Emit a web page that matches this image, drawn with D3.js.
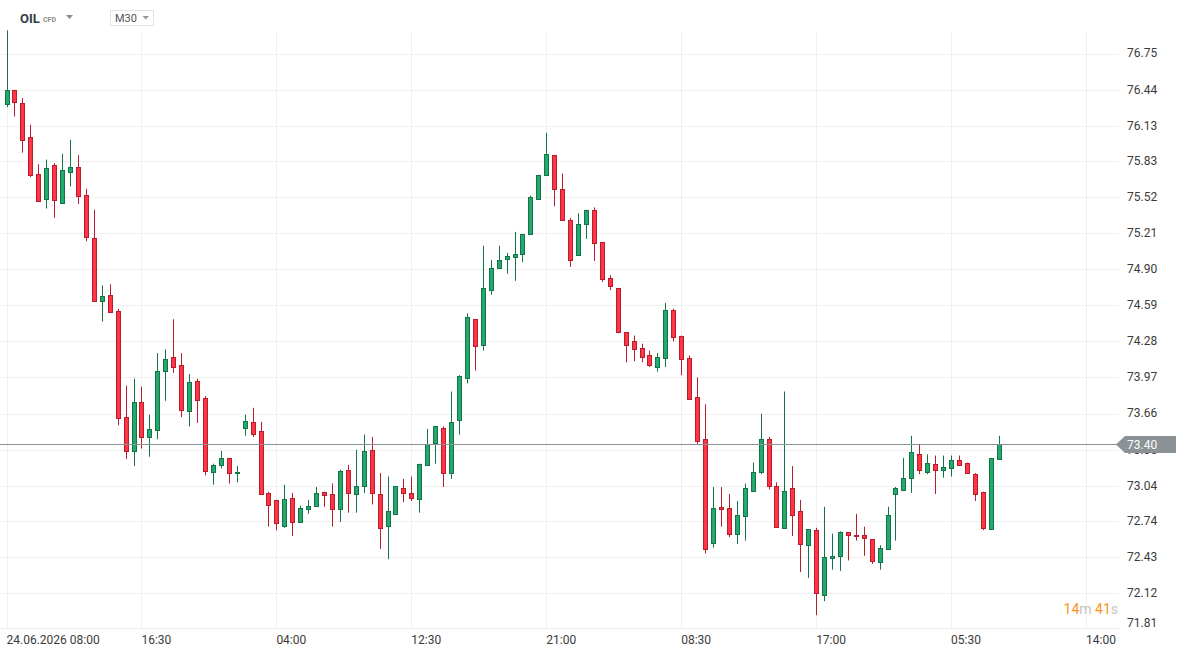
<!DOCTYPE html>
<html>
<head>
<meta charset="utf-8">
<script src="https://cdn.jsdelivr.net/npm/d3@7"></script>
<style>
    html, body { margin: 0; padding: 0; background: #fff; }
    svg { display: block; font-family: Roboto, 'Noto Sans', sans-serif; }
</style>
</head>
<body>
<div id="chart"></div>
<script>
// OIL CFD, M30 candles (prices)
const openPrices = [
    76.32, 76.44, 76.33, 76.03, 75.72, 75.50, 75.79, 75.47, 75.74, 75.78,
    75.54, 75.17, 74.63, 74.68, 74.54, 73.63, 73.34, 73.76, 73.46, 73.52,
    74.03, 74.15, 74.08, 73.68, 73.94, 73.79, 73.16, 73.22, 73.28, 73.15,
    73.54, 73.59, 73.51, 72.98, 72.92, 72.70, 72.94, 72.73, 72.84, 72.87,
    72.99, 72.97, 72.84, 73.18, 72.97, 73.04, 73.35, 72.97, 72.69, 72.80,
    73.02, 72.98, 72.93, 73.22, 73.40, 73.54, 73.15, 73.60, 73.97, 74.47,
    74.25, 74.72, 74.91, 74.98, 75.00, 75.03, 75.20, 75.50, 75.71, 75.88,
    75.59, 75.32, 75.02, 75.29, 75.41, 75.13, 74.82, 74.74, 74.36, 74.28,
    74.22, 74.16, 74.06, 74.14, 74.55, 74.33, 74.14, 73.80, 73.44, 72.55,
    72.86, 72.85, 72.63, 72.78, 73.00, 73.16, 73.44, 73.04, 72.68, 73.02,
    72.82, 72.53, 72.66, 72.10, 72.42, 72.43, 72.64, 72.62, 72.62, 72.58,
    72.39, 72.50, 72.97, 73.01, 73.11, 73.31, 73.16, 73.23, 73.17, 73.19,
    73.26, 73.24, 73.14, 72.99, 72.67, 73.27
];
const highPrices = [
    76.95, 76.44, 76.37, 76.14, 75.80, 75.84, 75.81, 75.89, 76.01, 75.88,
    75.59, 75.41, 74.76, 74.77, 74.56, 73.90, 73.96, 73.89, 73.65, 74.18,
    74.21, 74.47, 74.18, 74.00, 73.96, 73.81, 73.23, 73.34, 73.28, 73.21,
    73.65, 73.71, 73.59, 72.99, 72.92, 73.05, 72.98, 72.87, 72.92, 73.03,
    72.99, 73.06, 73.18, 73.22, 73.35, 73.48, 73.46, 73.15, 73.12, 73.04,
    73.10, 73.12, 73.23, 73.53, 73.55, 73.55, 73.85, 73.99, 74.52, 74.47,
    75.10, 74.98, 75.10, 75.04, 75.22, 75.20, 75.53, 75.71, 76.07, 75.88,
    75.72, 75.34, 75.38, 75.41, 75.43, 75.13, 74.85, 74.74, 74.36, 74.33,
    74.26, 74.20, 74.18, 74.61, 74.56, 74.33, 74.16, 73.97, 73.74, 73.03,
    73.03, 72.97, 72.91, 73.06, 73.24, 73.66, 73.46, 73.07, 73.85, 73.21,
    72.92, 72.67, 72.68, 72.86, 72.63, 72.65, 72.64, 72.80, 72.69, 72.58,
    72.53, 72.86, 73.03, 73.28, 73.47, 73.40, 73.31, 73.30, 73.30, 73.30,
    73.30, 73.24, 73.15, 72.99, 73.28, 73.47
];
const lowPrices = [
    76.29, 76.21, 75.90, 75.69, 75.49, 75.42, 75.34, 75.47, 75.61, 75.46,
    75.14, 74.62, 74.45, 74.53, 73.56, 73.27, 73.21, 73.36, 73.29, 73.44,
    73.77, 74.01, 73.63, 73.55, 73.58, 73.13, 73.05, 73.19, 73.06, 73.07,
    73.47, 73.46, 72.97, 72.69, 72.66, 72.68, 72.61, 72.73, 72.80, 72.86,
    72.86, 72.69, 72.73, 72.81, 72.81, 72.98, 72.88, 72.50, 72.41, 72.79,
    72.90, 72.91, 72.81, 73.22, 73.23, 73.03, 73.10, 73.48, 73.92, 74.03,
    74.20, 74.68, 74.91, 74.86, 74.80, 74.96, 75.20, 75.50, 75.70, 75.44,
    75.32, 74.92, 75.02, 75.16, 74.97, 74.79, 74.72, 74.35, 74.10, 74.11,
    74.10, 74.06, 74.02, 74.06, 74.28, 73.99, 73.79, 73.39, 72.46, 72.51,
    72.69, 72.60, 72.54, 72.57, 72.99, 73.14, 73.01, 72.68, 72.68, 72.61,
    72.30, 72.25, 71.93, 72.05, 72.32, 72.31, 72.40, 72.57, 72.44, 72.37,
    72.32, 72.50, 72.57, 73.00, 72.98, 73.14, 73.14, 72.97, 73.11, 73.12,
    73.21, 73.15, 72.91, 72.66, 72.67, 73.27
];
const closePrices = [
    76.44, 76.34, 76.01, 75.70, 75.49, 75.77, 75.49, 75.75, 75.78, 75.53,
    75.18, 74.63, 74.67, 74.53, 73.62, 73.34, 73.76, 73.46, 73.53, 74.03,
    74.13, 74.06, 73.69, 73.93, 73.78, 73.16, 73.22, 73.28, 73.15, 73.16,
    73.60, 73.49, 72.97, 72.88, 72.72, 72.93, 72.73, 72.85, 72.87, 72.98,
    72.96, 72.84, 73.17, 72.98, 73.04, 73.34, 72.98, 72.68, 72.82, 73.04,
    72.98, 72.94, 73.23, 73.40, 73.55, 73.15, 73.59, 73.98, 74.49, 74.24,
    74.74, 74.91, 74.98, 75.01, 75.03, 75.20, 75.52, 75.71, 75.89, 75.59,
    75.32, 74.98, 75.29, 75.41, 75.13, 74.81, 74.75, 74.36, 74.25, 74.21,
    74.14, 74.07, 74.15, 74.55, 74.32, 74.13, 73.79, 73.42, 72.50, 72.85,
    72.84, 72.63, 72.79, 73.02, 73.16, 73.44, 73.04, 72.69, 73.00, 72.79,
    72.54, 72.67, 72.12, 72.43, 72.44, 72.64, 72.61, 72.61, 72.59, 72.39,
    72.51, 72.79, 73.02, 73.11, 73.33, 73.17, 73.24, 73.18, 73.20, 73.26,
    73.22, 73.15, 72.97, 72.68, 73.28, 73.40
];

// time axis: one label every 17 candles
const timeLabels = ['24.06.2026 08:00', '16:30', '04:00', '12:30', '21:00', '08:30', '17:00', '05:30', '14:00'];
const labelEvery = 17;

const priceTicks = ['76.75', '76.44', '76.13', '75.83', '75.52', '75.21', '74.90', '74.59', '74.28',
    '73.97', '73.66', '73.35', '73.04', '72.74', '72.43', '72.12', '71.81'];
const lastPrice = 73.40;

const width = 1188, height = 653;
const plotRight = 1119, plotBottom = 628, plotTop = 32;
const upFill = '#22a96c', upLine = '#157447';
const downFill = '#ff3446', downLine = '#b81d2c';

const candles = openPrices.map((o, i) => ({
    i: i, open: o, high: highPrices[i], low: lowPrices[i], close: closePrices[i]
}));

const x = d3.scaleLinear()
    .domain([0, labelEvery * (timeLabels.length - 1)])
    .range([6.5, 1086]);
const y = d3.scaleLinear()
    .domain([71.82, 77.21])
    .range([plotBottom, 0]);

const px = v => Math.round(v) + 0.5;

const svg = d3.select('#chart').append('svg')
    .attr('width', width)
    .attr('height', height);

// horizontal grid
svg.append('g')
    .selectAll('line')
    .data(priceTicks.filter(t => y(+t) < plotBottom - 2))
    .join('line')
    .attr('x1', 0).attr('x2', plotRight)
    .attr('y1', d => px(y(+d))).attr('y2', d => px(y(+d)))
    .attr('stroke', '#f0f0f0');

// vertical grid
svg.append('g')
    .selectAll('line')
    .data(timeLabels)
    .join('line')
    .attr('x1', (d, k) => px(x(k * labelEvery)))
    .attr('x2', (d, k) => px(x(k * labelEvery)))
    .attr('y1', plotTop).attr('y2', plotBottom)
    .attr('stroke', '#f0f0f0');

// bottom axis line
svg.append('line')
    .attr('x1', 0).attr('x2', plotRight)
    .attr('y1', plotBottom + 0.5).attr('y2', plotBottom + 0.5)
    .attr('stroke', '#ebebeb');

// time labels
svg.append('g')
    .selectAll('text')
    .data(timeLabels)
    .join('text')
    .attr('x', (d, k) => x(k * labelEvery))
    .attr('y', 644)
    .attr('font-size', 12)
    .attr('fill', '#3b3b3b')
    .text(d => d);

// price labels on the right
const yAxis = d3.axisRight(y)
    .tickValues(priceTicks.map(Number))
    .tickFormat(d => d.toFixed(2))
    .tickSize(0)
    .tickPadding(0);
const yg = svg.append('g')
    .attr('transform', `translate(1127,0)`)
    .call(yAxis);
yg.select('.domain').remove();
yg.selectAll('.tick')
    .attr('transform', d => `translate(0,${Math.min(y(d), 623)})`);
yg.selectAll('text')
    .attr('font-family', 'Roboto, sans-serif')
    .attr('font-size', 12)
    .attr('fill', '#3b3b3b');

// candles
const cg = svg.append('g');
const bars = cg.selectAll('g')
    .data(candles)
    .join('g');

bars.append('line')
    .attr('x1', d => px(x(d.i))).attr('x2', d => px(x(d.i)))
    .attr('y1', d => y(d.high)).attr('y2', d => y(d.low))
    .attr('stroke', d => d.close >= d.open ? upLine : downLine)
    .attr('stroke-width', 1);

bars.append('rect')
    .attr('x', d => px(x(d.i)) - 2)
    .attr('width', 4)
    .attr('y', d => Math.round(y(Math.max(d.open, d.close))) + 0.5)
    .attr('height', d => Math.max(1, Math.round(Math.abs(y(d.open) - y(d.close)))))
    .attr('fill', d => d.close >= d.open ? upFill : downFill)
    .attr('stroke', d => d.close >= d.open ? upLine : downLine)
    .attr('stroke-width', 1);

// last price line + marker
const yp = px(y(lastPrice));
svg.append('line')
    .attr('x1', 0).attr('x2', 1117)
    .attr('y1', yp).attr('y2', yp)
    .attr('stroke', '#8a9194');

svg.append('path')
    .attr('d', `M1116,${yp} L1125,${yp - 8.5} L1176,${yp - 8.5} L1176,${yp + 8.5} L1125,${yp + 8.5} Z`)
    .attr('fill', '#8a9295');
svg.append('text')
    .attr('x', 1127).attr('y', yp + 4.5)
    .attr('font-size', 12)
    .attr('fill', '#fff')
    .text(lastPrice.toFixed(2));

// candle countdown
const countdown = svg.append('text')
    .attr('x', 1118).attr('y', 614)
    .attr('text-anchor', 'end')
    .attr('font-size', 14);
[['14', '#f7941d'], ['m ', '#c4c4c4'], ['41', '#f7941d'], ['s', '#c4c4c4']].forEach(p => {
    countdown.append('tspan').attr('fill', p[1]).text(p[0]);
});

// header: instrument + interval
svg.append('text')
    .attr('x', 20).attr('y', 23)
    .attr('font-size', 13)
    .attr('font-weight', 'bold')
    .attr('fill', '#333d47')
    .text('OIL');
svg.append('text')
    .attr('x', 43).attr('y', 22)
    .attr('font-size', 7)
    .attr('font-weight', 'bold')
    .attr('fill', '#8a8a8a')
    .text('CFD');
svg.append('path')
    .attr('d', 'M66,15 L73,15 L69.5,19 Z')
    .attr('fill', '#8a8a8a');

svg.append('rect')
    .attr('x', 110.5).attr('y', 10.5)
    .attr('width', 43).attr('height', 15)
    .attr('fill', '#fff')
    .attr('stroke', '#e2e2e2');
svg.append('text')
    .attr('x', 115).attr('y', 22)
    .attr('font-size', 11)
    .attr('fill', '#555')
    .text('M30');
svg.append('path')
    .attr('d', 'M142.5,16 L149,16 L145.75,19.5 Z')
    .attr('fill', '#999');
</script>
</body>
</html>
